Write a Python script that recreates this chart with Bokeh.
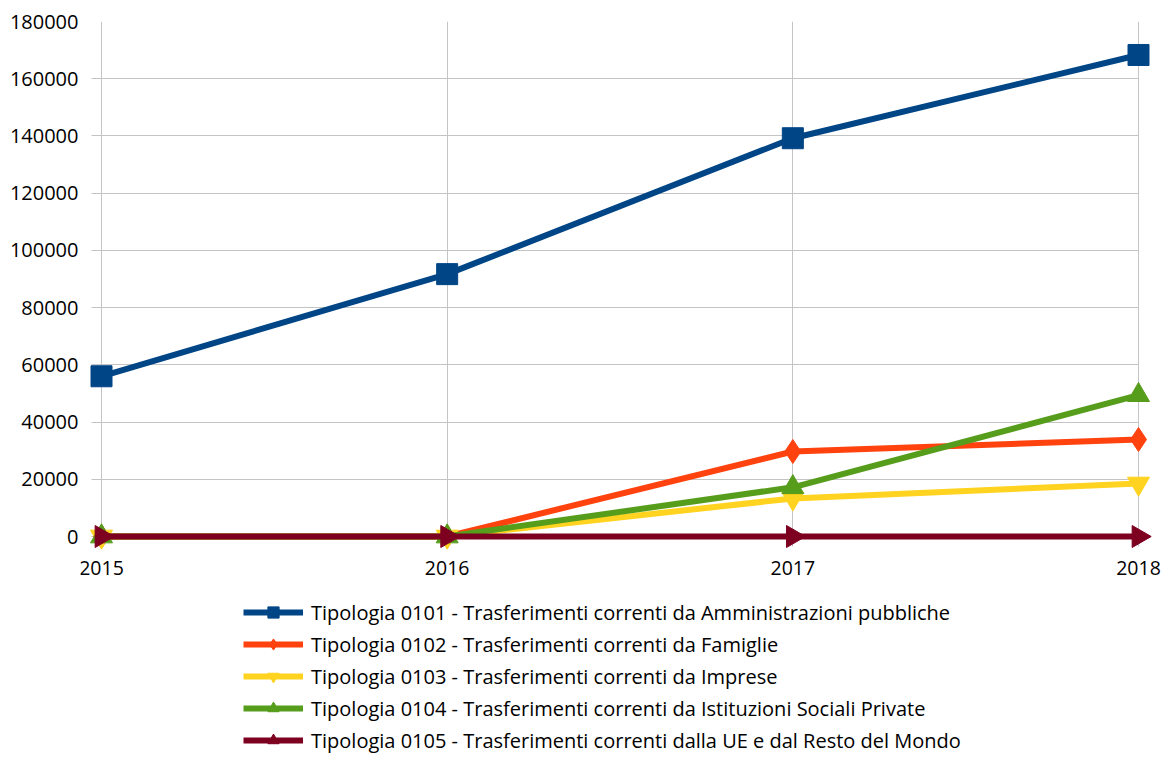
import numpy as np
from bokeh.plotting import figure
from bokeh.models import Range1d, FixedTicker, Legend, LegendItem, BasicTickFormatter
from bokeh.core.properties import value
from bokeh.embed import file_html
from bokeh.resources import INLINE

years = [2015, 2016, 2017, 2018]
year_labels = ["2015", "2016", "2017", "2018"]
s0101 = [56000, 91700, 139200, 168300]
s0102 = [0, 0, 29700, 33900]
s0103 = [0, 0, 13300, 18500]
s0104 = [0, 0, 17200, 49400]
s0105 = [0, 0, 0, 0]
labels = [
    "Tipologia 0101 - Trasferimenti correnti da Amministrazioni pubbliche",
    "Tipologia 0102 - Trasferimenti correnti da Famiglie",
    "Tipologia 0103 - Trasferimenti correnti da Imprese",
    "Tipologia 0104 - Trasferimenti correnti da Istituzioni Sociali Private",
    "Tipologia 0105 - Trasferimenti correnti dalla UE e dal Resto del Mondo",
]
y_ticks = [0, 20000, 40000, 60000, 80000, 100000, 120000, 140000, 160000, 180000]

series = [s0101, s0102, s0103, s0104, s0105]
colors = ["#004586", "#ff420e", "#ffd320", "#579d1c", "#7e0021"]
markers = ["square", "diamond", "inverted_triangle", "triangle", "triangle"]
angles = [0, 0, 0, 0, -np.pi / 2]
big_sizes = [21, 24, 22, 22, 22]
small_sizes = [12, 15, 13, 13, 13]

FONT = "Open Sans"
GRID = "#c4c4c4"

# geometry (pixels)
W, H = 1161, 754
TOP, LEFT = 21, 80
X2015, X2018 = 101, 1138
px_per_year = (X2018 - X2015) / 3.0
px_per_unit = 515.0 / 180000
x0 = 2015 - (X2015 - LEFT) / px_per_year
x1 = 2018 + (W - X2018) / px_per_year
grid_left = 2015 - 10 / px_per_year
frame_h = H - TOP
y0 = 180000 - frame_h / px_per_unit
tick_bottom = -10 / px_per_unit

p = figure(width=W, height=H, output_backend="svg", toolbar_location=None,
           x_range=Range1d(x0, x1), y_range=Range1d(y0, 180000),
           x_axis_location=None,
           min_border_left=LEFT, min_border_right=0, min_border_top=TOP,
           min_border_bottom=0)
p.outline_line_color = None

p.yaxis.ticker = FixedTicker(ticks=y_ticks)
p.yaxis.formatter = BasicTickFormatter(use_scientific=False)
ax = p.yaxis[0]
ax.axis_line_color = None
ax.major_tick_line_color = None
ax.minor_tick_line_color = None
ax.major_tick_out = 0
ax.major_tick_in = 0
ax.major_label_text_font = FONT
ax.major_label_text_font_size = "20px"
ax.major_label_text_color = "#000000"
ax.major_label_standoff = 2

p.xgrid.ticker = FixedTicker(ticks=years)
p.xgrid.grid_line_color = GRID
p.xgrid.cross_bounds = (tick_bottom, 180000)
p.ygrid.grid_line_color = GRID
p.ygrid.bounds = (0, 180000)
p.ygrid.cross_bounds = (grid_left, 2018)

# x tick labels
p.text(x=years, y=[0] * len(years), text=year_labels, y_offset=31,
       text_align="center", text_baseline="middle",
       text_font=value(FONT), text_font_size="19.5px", text_color="#000000")

items = []
for s, c, m, a, bs, ss, lab in zip(series, colors, markers, angles, big_sizes, small_sizes, labels):
    small = p.scatter(years, s, marker=m, size=ss, angle=a, color=c)
    ln = p.line(years, s, line_color=c, line_width=6)
    p.scatter(years, s, marker=m, size=bs, angle=a, color=c)
    items.append(LegendItem(label=lab, renderers=[ln, small]))

legend = Legend(items=items, location=(243 - LEFT, 0), orientation="vertical",
                margin=0, padding=0, border_line_color=None, background_fill_alpha=0,
                glyph_width=60, glyph_height=28, label_height=28, spacing=4,
                label_standoff=8, label_text_font=FONT, label_text_font_size="20px",
                label_text_color="#000000")
p.add_layout(legend, "center")

open("out.html", "w").write(file_html(p, INLINE))
